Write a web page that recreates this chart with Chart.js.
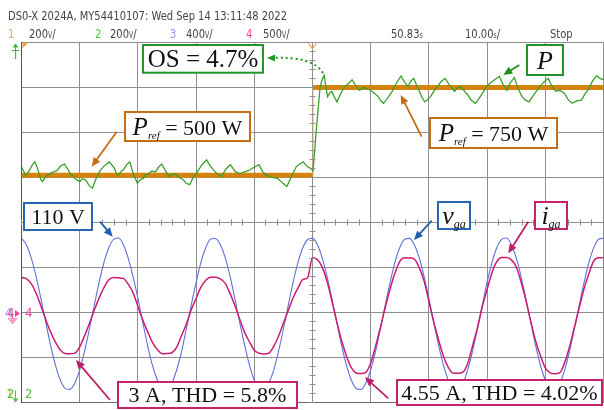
<!DOCTYPE html>
<html>
<head>
<meta charset="utf-8">
<script src="https://cdn.jsdelivr.net/npm/chart.js@4.4.1/dist/chart.umd.min.js"></script>
<style>
  html, body { margin: 0; padding: 0; background: #fff; width: 604px; height: 410px; overflow: hidden; }
  #wrap { position: relative; width: 604px; height: 410px; }
  #scope { position: absolute; left: 0; top: 0; }
  .hd { position: absolute; font-family: 'Liberation Sans Narrow', 'DejaVu Sans Condensed', 'Arial Narrow', sans-serif;
        font-size: 13px; line-height: 13px; color: #444; white-space: nowrap;
        transform: scaleX(0.85); transform-origin: 0 0; }
  .u { font-size: 8px; }
</style>
</head>
<body>
<div id="wrap">
  <canvas id="scope" width="604" height="410"></canvas>
  <div class="hd" style="left:8px;top:9px;">DS0-X 2024A, MY54410107: Wed Sep 14 13:11:48 2022</div>
  <div class="hd" style="left:8px;top:27px;color:#f2a54a;">1</div>
  <div class="hd" style="left:29px;top:27px;">200<span class="u">V</span>/</div>
  <div class="hd" style="left:95px;top:27px;color:#4cc23a;">2</div>
  <div class="hd" style="left:110px;top:27px;">200<span class="u">V</span>/</div>
  <div class="hd" style="left:170px;top:27px;color:#8d98ea;">3</div>
  <div class="hd" style="left:186px;top:27px;">400<span class="u">V</span>/</div>
  <div class="hd" style="left:246px;top:27px;color:#f0449c;">4</div>
  <div class="hd" style="left:263px;top:27px;">500<span class="u">V</span>/</div>
  <div class="hd" style="left:391px;top:27px;">50.83<span class="u">s</span></div>
  <div class="hd" style="left:465px;top:27px;">10.00<span class="u">s</span>/</div>
  <div class="hd" style="left:550px;top:27px;">Stop</div>
</div>
<script>
// Acquisition: 10 ms/div over 10 divisions, 8 vertical divisions.
const timeSpanMs = [0, 100];
const gridDivs = [0, 8];
const acStepMs = 5 / 6;           // sample spacing of the AC channels

// Channel 3: grid voltage v_ga (V), one sample every acStepMs
const vgaVolts = [
  154.6,141.6,114.7,76.6,31.0,-17.6,-64.5,-105.1,-135.4,-152.5,-154.6,-141.6,-114.7,-76.6,-31.0,17.6,64.5,105.1,135.4,152.5,
  155.2,142.0,114.1,76.0,31.6,-17.0,-64.9,-105.6,-135.0,-152.0,-155.1,-142.2,-114.3,-77.1,-30.4,18.1,64.0,105.5,135.9,153.0,
  154.1,141.2,115.2,77.1,30.5,-18.0,-64.1,-104.7,-135.8,-152.9,-154.3,-141.0,-115.0,-76.2,-31.5,17.2,64.9,104.8,135.1,152.1,
  155.0,141.9,114.5,76.3,31.3,-17.4,-64.7,-105.3,-135.2,-152.7,-154.9,-141.3,-114.9,-76.8,-30.8,17.9,64.2,105.3,135.6,152.8,
  154.4,141.4,114.9,76.9,30.7,-17.8,-64.3,-104.9,-135.6,-152.3,-154.5,-141.8,-114.5,-76.4,-31.2,17.4,64.7,104.9,135.2,152.3,
  155.1,141.7,114.4,76.4,31.1,-17.5,-64.6,-105.2,-135.3,-152.6,-154.8,-141.5,-114.6,-76.7,-30.9,17.7,64.4,105.2,135.5,152.6,
  154.7
];

// Channel 4: grid current i_ga (A), same sampling; 3 A rms before the step, 4.55 A rms after
const igaAmps = [
  4.24,4.11,3.55,2.51,1.08,-0.43,-1.82,-2.94,-3.81,-4.20,-4.24,-4.16,-3.46,-2.25,-0.87,0.61,1.95,3.12,3.98,4.24,
  4.20,4.14,3.50,2.56,1.02,-0.48,-1.78,-2.98,-3.77,-4.22,-4.20,-4.12,-3.50,-2.20,-0.92,0.66,1.90,3.16,3.94,4.26,
  4.26,4.08,3.58,2.47,1.12,-0.40,-1.86,-2.90,-3.84,-4.18,-4.26,-4.18,-3.42,-2.29,-0.83,0.57,1.99,3.08,4.01,4.22,
  6.44,6.24,5.39,3.81,1.64,-0.66,-2.76,-4.47,-5.78,-6.37,-6.44,-6.31,-5.26,-3.42,-1.31,0.92,2.96,4.73,6.04,6.44,
  6.40,6.28,5.33,3.86,1.58,-0.71,-2.71,-4.52,-5.74,-6.40,-6.41,-6.28,-5.31,-3.37,-1.36,0.97,2.91,4.78,6.00,6.46,
  6.46,6.20,5.44,3.76,1.69,-0.62,-2.80,-4.43,-5.81,-6.35,-6.46,-6.34,-5.22,-3.46,-1.27,0.88,3.00,4.69,6.07,6.42,
  6.43
];

// Channel 1: power reference P_ref (W)
const refTimesMs = [0, 50.1, 50.1, 100];
const refWatts   = [500, 500, 750, 750];

// Channel 2: measured active power P (W)
const powerTimesMs = [
  0,0.35,0.7,1.1,1.5,1.9,2.3,2.65,3.0,3.3,3.6,4.2,4.8,5.4,6.1,6.7,7.4,7.7,8.0,8.35,
  8.7,9.3,10.0,10.5,11.0,11.6,12.2,12.8,13.5,14.3,15.1,15.5,16.0,16.3,16.7,17.1,17.6,18.1,18.6,19.2,
  19.9,20.4,20.9,21.3,21.8,22.4,23.0,23.5,24.1,24.7,25.4,26.0,26.6,27.2,27.8,28.3,28.9,29.5,30.2,31.0,
  31.8,32.4,33.1,33.7,34.4,35.1,35.9,36.7,37.5,38.2,39.0,39.9,40.8,41.4,42.0,43.0,44.0,44.8,45.6,46.4,
  47.2,47.8,48.4,49.0,49.7,50.1,50.7,51.3,51.6,52.0,52.3,52.6,53.0,53.3,53.8,54.2,54.8,55.5,56.1,56.8,
  57.4,58.1,58.7,59.4,60.3,61.3,61.7,62.2,63.0,63.8,64.5,65.2,65.8,66.4,66.9,67.4,67.8,68.3,68.8,69.3,
  69.8,70.3,70.9,71.5,72.1,72.8,73.6,74.4,74.9,75.4,76.0,76.7,77.3,78.0,78.6,79.2,79.8,80.5,81.3,82.1,
  82.7,83.4,84.0,84.7,85.3,86.0,86.6,87.2,88.0,88.8,89.6,90.5,91.1,91.8,92.5,93.3,93.9,94.6,95.4,96.2,
  96.8,97.5,98.1,98.8,99.4,100
];
const powerWatts = [
  524,512,501,507,519,531,538,524,506,489,482,497,504,509,513,526,532,523,517,505,
  501,489,482,490,487,471,463,490,513,528,538,530,519,505,501,511,517,531,538,505,
  477,487,491,501,504,512,509,522,532,514,496,504,501,493,487,477,473,494,509,530,
  544,527,513,502,496,518,530,511,504,509,513,522,530,511,501,494,491,479,468,497,
  524,532,538,526,519,513,639,750,770,785,752,724,735,739,722,709,731,753,760,772,
  756,742,750,747,738,724,713,705,722,742,765,783,766,753,768,776,760,742,722,709,
  716,724,741,753,767,776,755,739,749,753,742,728,713,705,718,733,750,762,772,782,
  760,742,764,778,748,724,714,709,729,747,763,776,755,739,742,733,716,705,712,714,
  731,747,768,784,776,772
];

// Vertical placement of each channel on the 8-division screen
const voltsPerDiv = 92.07, voltsZeroDiv = 1.97;
const ampsPerDiv = 5, ampsZeroDiv = 1.93;
const wattsPerDiv = 128.2, wattsAt500Div = 5.05;

function axisRange(perDiv, zeroDiv) {
  return { min: (gridDivs[0] - zeroDiv) * perDiv, max: (gridDivs[1] - zeroDiv) * perDiv };
}
const vRange = axisRange(voltsPerDiv, voltsZeroDiv);
const iRange = axisRange(ampsPerDiv, ampsZeroDiv);
const pRange = { min: 500 - wattsAt500Div * wattsPerDiv, max: 500 + (gridDivs[1] - wattsAt500Div) * wattsPerDiv };

const toXY = (xs, ys) => ys.map((v, i) => ({ x: xs[i], y: v }));
const acXY = ys => ys.map((v, i) => ({ x: i * acStepMs, y: v }));

const GRID = '#8e8e8e';

// Labels with their frames, in (ms, div) screen coordinates
const labelBoxes = [
  { l: 20.88, r: 41.49, t: 7.944, b: 7.329, color: '#23922b', parts: [{ s: 'OS = 4.7%', size: 25 }] },
  { l: 86.86, r: 93.04, t: 7.944, b: 7.278, color: '#23922b', parts: [{ s: 'P', size: 26, it: true }] },
  { l: 17.78, r: 39.26, t: 6.456, b: 5.811, color: '#c66e14', parts: [{ s: 'P', size: 25, it: true }, { s: 'ref', size: 11, it: true, sub: true }, { s: ' = 500 W', size: 22 }] },
  { l: 70.19, r: 92.01, t: 6.322, b: 5.656, color: '#c66e14', parts: [{ s: 'P', size: 25, it: true }, { s: 'ref', size: 11, it: true, sub: true }, { s: ' = 750 W', size: 22 }] },
  { l: 0.43, r: 12.11, t: 4.433, b: 3.833, color: '#2566b5', parts: [{ s: '110 V', size: 22 }] },
  { l: 71.56, r: 77.06, t: 4.456, b: 3.856, color: '#2566b5', parts: [{ s: 'v', size: 26, it: true }, { s: 'ga', size: 12, it: true, sub: true }] },
  { l: 88.23, r: 93.73, t: 4.456, b: 3.856, color: '#c4236c', parts: [{ s: 'i', size: 26, it: true }, { s: 'ga', size: 12, it: true, sub: true }] },
  { l: 16.58, r: 47.34, t: 0.456, b: -0.122, color: '#c4236c', parts: [{ s: '3 A, THD = 5.8%', size: 22 }] },
  { l: 64.52, r: 99.74, t: 0.500, b: -0.056, color: '#c4236c', parts: [{ s: '4.55 A, THD = 4.02%', size: 22 }] }
];
const labelArrows = [
  { from: [16.36, 6.018], to: [12.06, 5.240], color: '#c66e14' },
  { from: [68.76, 5.907], to: [65.15, 6.833], color: '#c66e14' },
  { from: [85.53, 7.5],   to: [82.78, 7.278], color: '#1f8f1f' },
  { from: [13.49, 4.018], to: [15.67, 3.684], color: '#1f5fb0' },
  { from: [70.48, 4.04],  to: [67.44, 3.611], color: '#1f5fb0' },
  { from: [87.08, 4.018], to: [83.64, 3.316], color: '#bf1f68' },
  { from: [15.21, 0.056], to: [9.36, 0.944],  color: '#bf1f68' },
  { from: [63.02, 0.093], to: [59.02, 0.56],  color: '#bf1f68' }
];
const overshootCurve = { from: [51.80, 7.322], ctrl: [50.0, 7.70], to: [42.18, 7.656], color: '#1f9a1f' };

const SERIF = "'Liberation Serif', 'Times New Roman', serif";
const NARROW = "'Liberation Sans Narrow', 'DejaVu Sans Condensed', sans-serif";

function arrowHead(ctx, x0, y0, x1, y1, len, half) {
  const a = Math.atan2(y1 - y0, x1 - x0);
  ctx.beginPath();
  ctx.moveTo(x1, y1);
  ctx.lineTo(x1 - len * Math.cos(a) + half * Math.sin(a), y1 - len * Math.sin(a) - half * Math.cos(a));
  ctx.lineTo(x1 - len * Math.cos(a) - half * Math.sin(a), y1 - len * Math.sin(a) + half * Math.cos(a));
  ctx.closePath();
  ctx.fill();
}

const scopeDecor = {
  id: 'scopeDecor',
  afterDatasetsDraw(chart) {
    const { ctx, scales: { x, y }, chartArea: ca } = chart;
    const px = v => x.getPixelForValue(v), py = v => y.getPixelForValue(v);
    ctx.save();

    // minor ticks along the centre crosshair
    const cx = Math.round(px(50) - 0.5) + 0.5, cy = Math.round(py(4) - 0.5) + 0.5;
    ctx.strokeStyle = GRID; ctx.lineWidth = 1;
    ctx.beginPath();
    for (let t = 0; t <= 100; t += 2) {
      const xx = Math.round(px(t) - 0.5) + 0.5;
      ctx.moveTo(xx, cy - 3); ctx.lineTo(xx, cy + 3);
    }
    for (let d = 0; d <= 40; d++) {
      const yy = Math.round(py(d / 5) - 0.5) + 0.5;
      ctx.moveTo(cx - 3, yy); ctx.lineTo(cx + 3, yy);
    }
    ctx.stroke();

    // trigger markers
    ctx.fillStyle = '#f0a040';
    ctx.beginPath(); ctx.moveTo(ca.left + 1, ca.top); ctx.lineTo(ca.left + 7, ca.top); ctx.lineTo(ca.left + 1, ca.top + 6); ctx.closePath(); ctx.fill();
    ctx.strokeStyle = '#f0a040'; ctx.lineWidth = 1.2;
    ctx.beginPath(); ctx.moveTo(cx - 4, ca.top + 1); ctx.lineTo(cx, ca.top + 6); ctx.lineTo(cx + 4, ca.top + 1); ctx.stroke();

    // channel reference markers on the left edge
    ctx.font = '13px ' + NARROW; ctx.textBaseline = 'middle'; ctx.textAlign = 'left';
    ctx.fillStyle = '#43b83a';
    ctx.fillText('T', 12, ca.top + 13);
    ctx.strokeStyle = '#43b83a'; ctx.lineWidth = 1;
    ctx.beginPath(); ctx.moveTo(15.5, ca.top + 2); ctx.lineTo(15.5, ca.top + 8); ctx.stroke();
    ctx.beginPath(); ctx.moveTo(12.5, ca.top + 5); ctx.lineTo(15.5, ca.top + 1); ctx.lineTo(18.5, ca.top + 5); ctx.closePath(); ctx.fill();

    const y4 = py(ampsZeroDiv + 0.05);
    ctx.fillStyle = '#8d98ea'; ctx.fillText('4', 5, y4);
    ctx.fillStyle = '#f0449c'; ctx.fillText('4', 7, y4);
    ctx.fillText('4', 25, y4);
    ctx.beginPath(); ctx.moveTo(15, y4 - 3.5); ctx.lineTo(20, y4); ctx.lineTo(15, y4 + 3.5); ctx.closePath(); ctx.fill();
    ctx.strokeStyle = '#f0449c';
    ctx.beginPath();
    ctx.moveTo(12.5, y4 + 1); ctx.lineTo(12.5, y4 + 5);
    ctx.moveTo(8, y4 + 5.5); ctx.lineTo(17, y4 + 5.5);
    ctx.moveTo(9.5, y4 + 7.5); ctx.lineTo(15.5, y4 + 7.5);
    ctx.moveTo(11, y4 + 9.5); ctx.lineTo(14, y4 + 9.5);
    ctx.stroke();

    const y2 = ca.bottom - 8;
    ctx.fillStyle = '#f2a54a'; ctx.fillText('1', 6, y2);
    ctx.fillStyle = '#4cc23a'; ctx.fillText('2', 7, y2);
    ctx.fillText('2', 25, y2);
    ctx.strokeStyle = '#4cc23a';
    ctx.beginPath(); ctx.moveTo(15.5, y2 - 4); ctx.lineTo(15.5, ca.bottom - 3); ctx.stroke();
    ctx.beginPath(); ctx.moveTo(12.5, ca.bottom - 4); ctx.lineTo(15.5, ca.bottom); ctx.lineTo(18.5, ca.bottom - 4); ctx.closePath(); ctx.fill();

    // dotted overshoot pointer
    const oc = overshootCurve;
    ctx.strokeStyle = oc.color; ctx.fillStyle = oc.color; ctx.lineWidth = 2;
    ctx.setLineDash([2, 3]);
    ctx.beginPath();
    ctx.moveTo(px(oc.from[0]), py(oc.from[1]));
    ctx.quadraticCurveTo(px(oc.ctrl[0]), py(oc.ctrl[1]), px(oc.to[0]) + 6, py(oc.to[1]));
    ctx.stroke();
    ctx.setLineDash([]);
    arrowHead(ctx, px(oc.to[0]) + 10, py(oc.to[1]), px(oc.to[0]), py(oc.to[1]), 8, 3.5);

    // pointer arrows
    labelArrows.forEach(a => {
      const x0 = px(a.from[0]), y0 = py(a.from[1]), x1 = px(a.to[0]), y1 = py(a.to[1]);
      const ang = Math.atan2(y1 - y0, x1 - x0);
      ctx.strokeStyle = a.color; ctx.fillStyle = a.color; ctx.lineWidth = 1.8;
      ctx.beginPath(); ctx.moveTo(x0, y0); ctx.lineTo(x1 - 6 * Math.cos(ang), y1 - 6 * Math.sin(ang)); ctx.stroke();
      arrowHead(ctx, x0, y0, x1, y1, 9, 4);
    });

    // framed labels
    ctx.textBaseline = 'alphabetic';
    labelBoxes.forEach(b => {
      const l = px(b.l), r = px(b.r), t = py(b.t), bt = py(b.b);
      ctx.fillStyle = '#fff';
      ctx.fillRect(l, t, r - l, bt - t);
      ctx.strokeStyle = b.color; ctx.lineWidth = 2;
      ctx.strokeRect(l, t, r - l, bt - t);
      let w = 0;
      b.parts.forEach(p => { ctx.font = (p.it ? 'italic ' : '') + p.size + 'px ' + SERIF; p.w = ctx.measureText(p.s).width; w += p.w; });
      const main = b.parts[0].size;
      let xx = (l + r) / 2 - w / 2;
      const base = (t + bt) / 2 + main * 0.33;
      ctx.fillStyle = '#111';
      b.parts.forEach(p => {
        ctx.font = (p.it ? 'italic ' : '') + p.size + 'px ' + SERIF;
        ctx.fillText(p.s, xx, p.sub ? base + 4 : base);
        xx += p.w;
      });
    });
    ctx.restore();
  }
};

new Chart(document.getElementById('scope'), {
  type: 'line',
  data: {
    datasets: [
      { label: 'P', data: toXY(powerTimesMs, powerWatts), yAxisID: 'yP',
        borderColor: '#3ba02b', borderWidth: 1.3, pointRadius: 0, tension: 0 },
      { label: 'P_ref', data: toXY(refTimesMs, refWatts), yAxisID: 'yP',
        borderColor: '#d4830f', borderWidth: 5, pointRadius: 0, tension: 0,
        segment: {
          borderWidth: c => (c.p0.parsed.x === c.p1.parsed.x ? 1 : 5),
          borderColor: c => (c.p0.parsed.x === c.p1.parsed.x ? '#e8b77a' : '#d4830f')
        } },
      { label: 'i_ga', data: acXY(igaAmps), yAxisID: 'yI',
        borderColor: '#cc1c6e', borderWidth: 1.5, pointRadius: 0, cubicInterpolationMode: 'monotone' },
      { label: 'v_ga', data: acXY(vgaVolts), yAxisID: 'yV',
        borderColor: '#5f70da', borderWidth: 1.1, pointRadius: 0, cubicInterpolationMode: 'monotone' }
    ]
  },
  options: {
    responsive: false,
    animation: false,
    events: [],
    layout: { padding: { left: 21.5, right: 0.5, top: 42.5, bottom: 7.5 } },
    plugins: { legend: { display: false }, tooltip: { enabled: false } },
    scales: {
      x: { type: 'linear', min: timeSpanMs[0], max: timeSpanMs[1],
           ticks: { display: false, stepSize: 10 },
           grid: { color: GRID, lineWidth: 1, drawTicks: false },
           border: { display: true, color: '#6a6a6a', width: 1 } },
      y: { type: 'linear', min: gridDivs[0], max: gridDivs[1],
           ticks: { display: false, stepSize: 1 },
           grid: { color: GRID, lineWidth: 1, drawTicks: false },
           border: { display: true, color: '#555', width: 1 } },
      yV: { display: false, min: vRange.min, max: vRange.max },
      yI: { display: false, min: iRange.min, max: iRange.max },
      yP: { display: false, min: pRange.min, max: pRange.max }
    }
  },
  plugins: [scopeDecor]
});
</script>
</body>
</html>
